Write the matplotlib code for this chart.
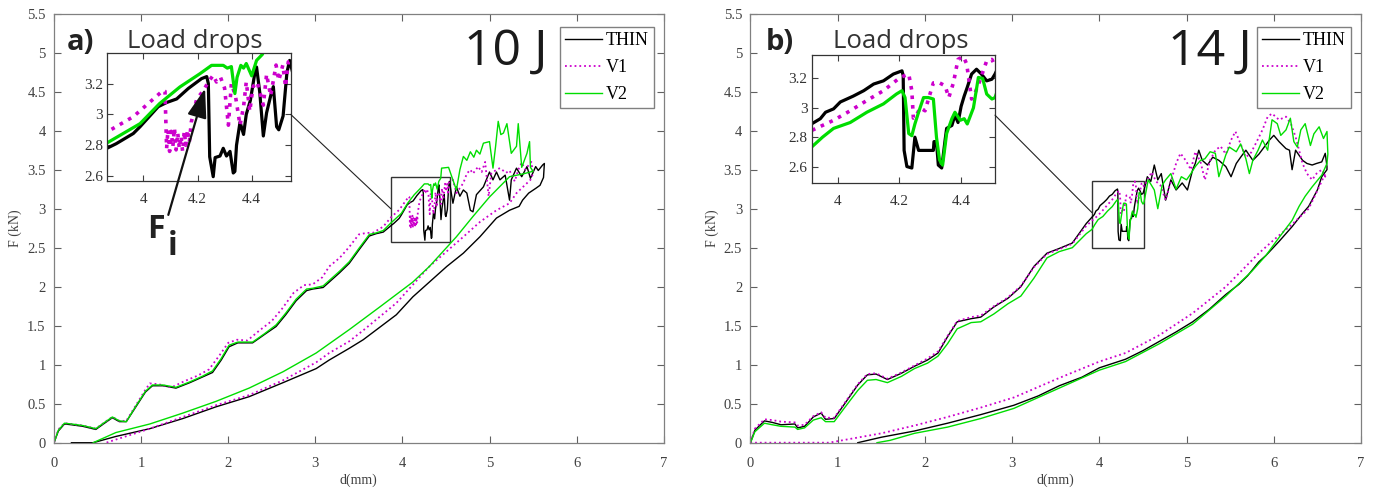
import matplotlib
matplotlib.use("Agg")
from matplotlib import pyplot as plt
from matplotlib.patches import Rectangle, ConnectionPatch
from matplotlib.ticker import FormatStrFormatter
import numpy as np

# ---- panel a) 10 J : loading + unloading path of each laminate ----
a_thin_d = [0.00, 0.05, 0.12, 0.20, 0.33, 0.48, 0.58, 0.67, 0.75, 0.83, 0.94, 1.05, 1.13, 1.25, 1.40,
            1.56, 1.70, 1.82, 1.92, 2.01, 2.11, 2.28, 2.42, 2.55, 2.66, 2.78, 2.90, 2.97, 3.09, 3.16,
            3.28, 3.39, 3.50, 3.62, 3.70, 3.78, 3.87, 3.90, 3.963, 3.988, 4.055, 4.086, 4.123, 4.166,
            4.215, 4.234, 4.240, 4.245, 4.258, 4.265, 4.283, 4.295, 4.307, 4.320, 4.332, 4.338, 4.344,
            4.357, 4.370, 4.380, 4.395, 4.410, 4.418, 4.430, 4.443, 4.455, 4.470, 4.480, 4.492, 4.500,
            4.516, 4.530, 4.540, 4.58, 4.62, 4.66, 4.70, 4.74, 4.78, 4.81, 4.85, 4.93, 5.00, 5.04, 5.08,
            5.12, 5.18, 5.23, 5.25, 5.31, 5.37, 5.43, 5.47, 5.53, 5.56, 5.61, 5.63,
            5.62, 5.58, 5.53, 5.45, 5.38, 5.34, 5.23, 5.08, 4.89, 4.70, 4.51, 4.31, 4.12, 3.93, 3.55,
            3.39, 3.16, 3.01, 2.63, 2.24, 1.86, 1.48, 1.10, 0.71, 0.45, 0.20]
a_thin_f = [0.00, 0.15, 0.24, 0.23, 0.21, 0.17, 0.25, 0.32, 0.27, 0.27, 0.46, 0.65, 0.73, 0.73, 0.70,
            0.77, 0.84, 0.90, 1.06, 1.23, 1.28, 1.28, 1.39, 1.49, 1.64, 1.82, 1.95, 1.97, 1.99, 2.06,
            2.18, 2.30, 2.47, 2.65, 2.68, 2.70, 2.784, 2.81, 2.876, 2.92, 3.05, 3.077, 3.10, 3.168,
            3.232, 3.245, 3.20, 2.725, 2.596, 2.72, 2.73, 2.78, 2.73, 2.76, 2.62, 2.63, 2.80,
            2.95, 2.87, 3.00, 3.09, 3.25, 3.307, 3.14, 2.86, 3.01, 3.12, 3.18, 2.92, 2.90,
            2.99, 3.27, 3.35, 3.07, 3.28, 3.16, 3.24, 3.20, 2.98, 2.96, 3.18, 3.28, 3.47, 3.37, 3.47,
            3.37, 3.43, 3.11, 3.37, 3.52, 3.41, 3.54, 3.39, 3.54, 3.49, 3.56, 3.58,
            3.40, 3.30, 3.26, 3.20, 3.11, 3.03, 2.98, 2.88, 2.64, 2.43, 2.26, 2.06, 1.87, 1.64, 1.32,
            1.21, 1.06, 0.95, 0.77, 0.59, 0.46, 0.31, 0.18, 0.08, 0.00, 0.00]

a_v1_d = [0.00, 0.05, 0.12, 0.20, 0.33, 0.48, 0.58, 0.67, 0.75, 0.83, 0.94, 1.05, 1.10, 1.20, 1.35,
          1.50, 1.65, 1.78, 1.90, 2.00, 2.10, 2.22, 2.36, 2.50, 2.62, 2.75, 2.87, 2.97, 3.08, 3.16,
          3.28, 3.39, 3.50, 3.59, 3.66, 3.78, 3.867, 3.963, 4.074, 4.080, 4.086, 4.091, 4.097, 4.103,
          4.109, 4.115, 4.121, 4.127, 4.133, 4.139, 4.145, 4.151, 4.157, 4.163, 4.170, 4.177,
          4.184, 4.197, 4.220, 4.240, 4.258, 4.270, 4.285, 4.300, 4.314,
          4.325, 4.340, 4.357, 4.370, 4.380, 4.393, 4.405, 4.420, 4.443, 4.455, 4.470, 4.490, 4.500,
          4.515, 4.525, 4.535, 4.58, 4.62, 4.70, 4.74, 4.78, 4.81, 4.87, 4.91, 4.95, 4.99, 5.02,
          5.08, 5.12, 5.19, 5.23, 5.29, 5.33, 5.37, 5.41, 5.45, 5.48,
          5.50, 5.47, 5.31, 5.23, 5.08, 4.89, 4.70, 4.31, 3.93, 3.55, 3.39, 3.16, 3.01, 2.63, 2.24,
          1.86, 1.48, 1.10, 0.71, 0.60]
a_v1_f = [0.00, 0.17, 0.25, 0.24, 0.22, 0.18, 0.26, 0.33, 0.28, 0.28, 0.48, 0.68, 0.76, 0.75, 0.71,
          0.79, 0.86, 0.94, 1.12, 1.28, 1.32, 1.31, 1.44, 1.56, 1.72, 1.92, 2.02, 2.03, 2.12, 2.26,
          2.37, 2.51, 2.67, 2.69, 2.69, 2.77, 2.887, 2.985, 3.157, 3.15, 2.78, 2.90, 2.76, 2.89,
          2.79, 2.91, 2.77, 2.88, 2.78, 2.86, 2.76, 2.89, 2.80, 2.90, 2.82, 2.95,
          3.00, 3.10, 3.15, 3.21, 3.254, 3.21, 3.24, 3.17, 2.93,
          3.20, 3.12, 2.93, 3.05, 3.21, 3.02, 3.18, 3.21, 3.06, 3.26, 3.12, 3.32, 3.22,
          3.32, 3.18, 3.34, 3.37, 3.20, 3.33, 3.45, 3.50, 3.45, 3.54, 3.47, 3.60, 3.16, 3.45,
          3.50, 3.52, 3.46, 3.49, 3.35, 3.50, 3.59, 3.50, 3.56, 3.60,
          3.45, 3.37, 3.20, 3.07, 2.98, 2.83, 2.64, 2.26, 1.79, 1.44, 1.30, 1.15, 1.03, 0.80, 0.61,
          0.48, 0.33, 0.18, 0.04, 0.00]

a_v2_d = [0.00, 0.05, 0.12, 0.20, 0.33, 0.48, 0.58, 0.67, 0.75, 0.83, 0.94, 1.05, 1.13, 1.25, 1.40,
          1.56, 1.70, 1.82, 1.92, 2.01, 2.11, 2.28, 2.42, 2.55, 2.66, 2.78, 2.90, 2.97, 3.09, 3.16,
          3.28, 3.39, 3.50, 3.62, 3.70, 3.78, 3.867, 3.988, 4.06, 4.135, 4.21, 4.252, 4.295, 4.310,
          4.325, 4.338, 4.346, 4.360, 4.370, 4.380, 4.400, 4.418, 4.44, 4.45, 4.53, 4.57, 4.62, 4.66,
          4.70, 4.74, 4.78, 4.82, 4.85, 4.89, 4.93, 5.00, 5.04, 5.07, 5.10, 5.13, 5.16, 5.20, 5.25,
          5.31, 5.33, 5.37, 5.43, 5.46, 5.47,
          5.50, 5.40, 5.23, 5.00, 4.81, 4.62, 4.31, 4.12, 3.74, 3.39, 3.01, 2.63, 2.24, 1.86, 1.48,
          1.10, 0.71, 0.45]
a_v2_f = [0.00, 0.16, 0.25, 0.24, 0.22, 0.18, 0.26, 0.33, 0.28, 0.27, 0.47, 0.66, 0.74, 0.74, 0.71,
          0.78, 0.85, 0.92, 1.08, 1.25, 1.29, 1.29, 1.40, 1.51, 1.66, 1.84, 1.97, 1.98, 2.01, 2.08,
          2.20, 2.32, 2.49, 2.67, 2.69, 2.72, 2.816, 2.94, 3.07, 3.178, 3.265, 3.318, 3.318, 3.30,
          3.31, 3.135, 3.24, 3.318, 3.30, 3.33, 3.25, 3.35, 3.39, 3.52, 3.53, 3.40, 3.24, 3.50,
          3.67, 3.62, 3.73, 3.66, 3.75, 3.70, 3.84, 3.86, 3.52, 3.80, 4.12, 3.95, 3.97, 4.09, 3.71,
          3.80, 4.09, 3.53, 3.71, 3.86, 3.53,
          3.48, 3.45, 3.41, 3.15, 2.90, 2.64, 2.26, 2.06, 1.74, 1.45, 1.15, 0.91, 0.70, 0.53, 0.38,
          0.24, 0.13, 0.00]

# ---- panel b) 14 J ----
b_thin_d = [0.00, 0.05, 0.16, 0.25, 0.35, 0.51, 0.54, 0.62, 0.72, 0.81, 0.86, 0.96, 1.08, 1.23, 1.34,
            1.44, 1.57, 1.73, 1.88, 2.03, 2.15, 2.26, 2.37, 2.53, 2.64, 2.79, 2.95, 3.10, 3.25, 3.40,
            3.54, 3.69, 3.85, 3.916, 3.943, 3.960, 3.986, 4.008, 4.050, 4.084, 4.116, 4.148, 4.180,
            4.208, 4.212, 4.215, 4.224, 4.240, 4.250, 4.262, 4.290, 4.310, 4.312, 4.320, 4.326, 4.337,
            4.348, 4.353, 4.370, 4.380, 4.390, 4.400, 4.410, 4.420, 4.434, 4.450, 4.466, 4.483, 4.500,
            4.510, 4.55, 4.59, 4.63, 4.67, 4.71, 4.76, 4.82, 4.88, 4.95, 5.01, 5.07, 5.10, 5.14, 5.18,
            5.24, 5.30, 5.37, 5.45, 5.51, 5.57, 5.62, 5.68, 5.76, 5.83, 5.89, 5.95, 6.00, 6.06, 6.14,
            6.18, 6.21, 6.25, 6.33, 6.38, 6.44, 6.49, 6.55, 6.59, 6.61,
            6.61, 6.55, 6.50, 6.40, 6.33, 6.21, 6.06, 5.91, 5.83, 5.70, 5.60, 5.45, 5.26, 5.07, 4.88,
            4.69, 4.50, 4.30, 4.00, 3.80, 3.54, 3.30, 3.02, 2.64, 2.26, 1.88, 1.50, 1.23]
b_thin_f = [0.00, 0.16, 0.28, 0.26, 0.23, 0.24, 0.19, 0.21, 0.33, 0.38, 0.30, 0.31, 0.50, 0.74, 0.87,
            0.88, 0.81, 0.89, 0.98, 1.06, 1.15, 1.36, 1.55, 1.59, 1.61, 1.74, 1.85, 2.00, 2.26, 2.43,
            2.49, 2.56, 2.81, 2.892, 2.926, 2.97, 2.993, 3.04, 3.08, 3.117, 3.162, 3.184, 3.23,
            3.252, 3.22, 2.71, 2.60, 2.59, 2.80, 2.71, 2.71, 2.71, 2.77, 2.77, 2.61, 2.59,
            2.78, 2.86, 2.88, 2.95, 2.90, 3.01, 3.08, 3.14, 3.23, 3.263, 3.23, 3.184, 3.195,
            3.23, 3.41, 3.35, 3.56, 3.37, 3.45, 3.11, 3.37, 3.24, 3.33, 3.24, 3.50, 3.58, 3.75, 3.62,
            3.56, 3.66, 3.62, 3.54, 3.41, 3.58, 3.66, 3.75, 3.62, 3.70, 3.79, 3.88, 3.94, 3.86, 3.77,
            3.75, 3.50, 3.75, 3.62, 3.58, 3.56, 3.58, 3.60, 3.71, 3.54,
            3.50, 3.41, 3.24, 3.03, 2.94, 2.77, 2.58, 2.40, 2.32, 2.14, 2.03, 1.90, 1.71, 1.55, 1.42,
            1.30, 1.18, 1.07, 0.96, 0.84, 0.73, 0.60, 0.48, 0.36, 0.25, 0.15, 0.07, 0.00]

b_v1_d = [0.00, 0.05, 0.16, 0.25, 0.35, 0.51, 0.54, 0.62, 0.72, 0.81, 0.86, 0.96, 1.08, 1.23, 1.34,
          1.44, 1.57, 1.73, 1.88, 2.03, 2.15, 2.26, 2.37, 2.53, 2.64, 2.79, 2.95, 3.10, 3.25, 3.40,
          3.54, 3.69, 3.85, 3.916, 3.986, 4.040, 4.094, 4.148, 4.202, 4.230, 4.240, 4.245, 4.255,
          4.267, 4.283, 4.294, 4.310, 4.330, 4.348, 4.360, 4.375, 4.390, 4.407, 4.418, 4.434, 4.445,
          4.460, 4.483, 4.500, 4.510, 4.53, 4.60, 4.65, 4.70, 4.76, 4.82, 4.88, 4.93, 4.99, 5.05,
          5.10, 5.16, 5.21, 5.27, 5.33, 5.39, 5.45, 5.51, 5.56, 5.62, 5.68, 5.74, 5.80, 5.87, 5.93,
          5.98, 6.06, 6.14, 6.20, 6.25, 6.33, 6.38, 6.44, 6.49, 6.55, 6.59,
          6.59, 6.52, 6.40, 6.21, 6.00, 5.83, 5.60, 5.45, 5.07, 4.69, 4.30, 4.00, 3.54, 3.02, 2.64,
          2.26, 1.88, 1.50, 1.00, 0.90, 0.00]
b_v1_f = [0.00, 0.18, 0.30, 0.29, 0.27, 0.26, 0.22, 0.23, 0.34, 0.39, 0.32, 0.32, 0.51, 0.75, 0.88,
          0.89, 0.82, 0.90, 0.99, 1.08, 1.17, 1.37, 1.56, 1.61, 1.63, 1.75, 1.86, 2.01, 2.25, 2.42,
          2.48, 2.55, 2.78, 2.847, 2.915, 2.98, 3.05, 3.117, 3.207, 3.23, 3.117, 2.93, 2.95,
          3.00, 2.98, 3.06, 3.17, 3.17, 3.15, 3.07, 3.17, 3.33, 3.35, 3.30, 3.06, 3.10,
          3.18, 3.32, 3.33, 3.285, 3.32, 3.47, 3.35, 3.30, 3.11, 3.35, 3.58, 3.71, 3.62, 3.50,
          3.73, 3.60, 3.37, 3.62, 3.75, 3.80, 3.70, 3.88, 3.99, 3.83, 3.66, 3.72, 3.85, 4.01, 4.18,
          4.22, 4.14, 4.18, 4.08, 3.92, 3.58, 3.45, 3.37, 3.45, 3.50, 3.41,
          3.45, 3.28, 3.00, 2.80, 2.60, 2.43, 2.17, 2.00, 1.66, 1.38, 1.15, 1.04, 0.83, 0.58, 0.45,
          0.33, 0.22, 0.12, 0.02, 0.00, 0.00]

b_v2_d = [0.00, 0.05, 0.16, 0.25, 0.35, 0.51, 0.54, 0.62, 0.72, 0.81, 0.86, 0.96, 1.08, 1.23, 1.34,
          1.44, 1.57, 1.73, 1.88, 2.03, 2.15, 2.26, 2.37, 2.53, 2.64, 2.79, 2.95, 3.10, 3.25, 3.40,
          3.54, 3.69, 3.85, 3.916, 3.950, 3.986, 4.040, 4.094, 4.148, 4.190, 4.208, 4.218, 4.230,
          4.240, 4.250, 4.262, 4.278, 4.294, 4.310, 4.320, 4.330, 4.340, 4.353, 4.370, 4.380, 4.397,
          4.410, 4.420, 4.440, 4.456, 4.470, 4.483, 4.500, 4.510, 4.56, 4.63, 4.67, 4.72, 4.76, 4.82,
          4.88, 4.94, 5.00, 5.05, 5.10, 5.16, 5.21, 5.27, 5.33, 5.37, 5.45, 5.49, 5.57, 5.62, 5.68,
          5.72, 5.76, 5.82, 5.87, 5.93, 5.98, 6.04, 6.08, 6.14, 6.19, 6.23, 6.27, 6.31, 6.36, 6.42,
          6.46, 6.52, 6.57, 6.61, 6.62,
          6.61, 6.55, 6.44, 6.36, 6.29, 6.21, 6.06, 5.91, 5.75, 5.60, 5.45, 5.07, 4.69, 4.30, 4.00,
          3.54, 3.02, 2.64, 2.26, 1.88, 1.60, 1.45]
b_v2_f = [0.00, 0.14, 0.25, 0.23, 0.21, 0.20, 0.17, 0.19, 0.29, 0.32, 0.27, 0.27, 0.45, 0.67, 0.80,
          0.81, 0.77, 0.85, 0.95, 1.02, 1.11, 1.27, 1.46, 1.54, 1.55, 1.65, 1.78, 1.88, 2.11, 2.37,
          2.45, 2.50, 2.68, 2.735, 2.80, 2.86, 2.90, 2.97, 3.027, 3.094, 3.117, 3.07, 2.825,
          2.81, 2.89, 2.97, 3.07, 3.07, 3.06, 2.80, 2.645, 2.61, 2.825, 2.926, 2.97, 2.915,
          2.926, 2.89, 3.00, 3.207, 3.20, 3.094, 3.06, 3.07, 3.37, 3.24, 3.00, 3.30, 3.37, 3.45,
          3.25, 3.41, 3.37, 3.45, 3.54, 3.62, 3.64, 3.73, 3.71, 3.41, 3.69, 3.79, 3.73, 3.83, 3.64,
          3.45, 3.62, 3.75, 3.88, 3.75, 4.14, 4.09, 3.94, 4.01, 4.16, 3.86, 3.79, 4.01, 4.09, 3.81,
          3.96, 4.05, 3.90, 3.99, 3.70,
          3.58, 3.43, 3.28, 3.16, 3.03, 2.85, 2.63, 2.40, 2.20, 2.04, 1.88, 1.52, 1.27, 1.04, 0.93,
          0.70, 0.44, 0.31, 0.20, 0.12, 0.03, 0.00]

labels = ["THIN", "V1", "V2"]
colors = ["#000000", "#cc00cc", "#00dd00"]
styles = ["-", ":", "-"]

panels = [
    dict(tag="a)", energy="10 J",
         curves=[(a_thin_d, a_thin_f), (a_v1_d, a_v1_f), (a_v2_d, a_v2_f)],
         zx=(3.867, 4.544), zy=(2.57, 3.40), link_f=3.0,
         pos=[0.03905, 0.10566, 0.44085, 0.86667], inpos=[0.07758, 0.63495, 0.13261, 0.25859],
         tagx=0.021, loadx=0.119, ex=0.672),
    dict(tag="b)", energy="14 J",
         curves=[(b_thin_d, b_thin_f), (b_v1_d, b_v1_f), (b_v2_d, b_v2_f)],
         zx=(3.915, 4.51), zy=(2.49, 3.36), link_f=2.95,
         pos=[0.54266, 0.10566, 0.44143, 0.86667], inpos=[0.58691, 0.63091, 0.13254, 0.25798],
         tagx=0.025, loadx=0.135, ex=0.684),
]

serif = "Liberation Serif"
sans = "Open Sans"

fig = plt.figure(figsize=(13.83, 4.95), dpi=100)

for p in panels:
    ax = fig.add_axes(p["pos"])
    for (d, f), lab, c, ls in zip(p["curves"], labels, colors, styles):
        ax.plot(d, f, ls, color=c, lw=1.0 if ls == "-" else 1.3, label=lab)
    ax.set_xlim(0, 7)
    ax.set_ylim(0, 5.5)
    ax.set_xticks(np.arange(0, 8, 1))
    ax.set_yticks(np.arange(0, 5.51, 0.5))
    ax.yaxis.set_major_formatter(FormatStrFormatter("%g"))
    ax.tick_params(direction="in", length=5, top=True, right=True, color="#606060",
                   labelcolor="#404040", labelsize=10.5, width=0.8)
    ax.tick_params(axis="x", pad=10)
    ax.tick_params(axis="y", pad=6)
    for lab in ax.get_xticklabels() + ax.get_yticklabels():
        lab.set_family(serif)
    for s in ax.spines.values():
        s.set_color("#808080")
        s.set_linewidth(0.9)
    ax.set_xlabel("d(mm)", family=serif, fontsize=10, color="#404040")
    ax.set_ylabel("F (kN)", family=serif, fontsize=10, color="#404040")
    ax.xaxis.set_label_coords(0.5, -0.072)
    ax.yaxis.set_label_coords(-0.052, 0.5)

    leg = ax.legend(loc="upper right", bbox_to_anchor=(0.984, 0.970), borderaxespad=0,
                    fancybox=False, framealpha=1, edgecolor="#808080", handlelength=2.05,
                    handletextpad=0.2, labelspacing=0.55, borderpad=0.3,
                    prop={"family": serif, "size": 13})
    leg.get_frame().set_linewidth(1.0)

    ax.text(p["tagx"], 0.915, p["tag"], transform=ax.transAxes, family=sans, fontweight="bold",
            fontsize=21, color="#222222", va="baseline")
    ax.text(p["loadx"], 0.919, "Load drops", transform=ax.transAxes, family=sans,
            fontsize=18.5, color="#333333", va="baseline")
    ax.text(p["ex"], 0.882, p["energy"], transform=ax.transAxes, family=sans,
            fontsize=36, fontweight="medium", color="#1a1a1a", va="baseline")

    zx, zy = p["zx"], p["zy"]
    ax.add_patch(Rectangle((zx[0], zy[0]), zx[1] - zx[0], zy[1] - zy[0], fill=False,
                           ec="#333333", lw=1.0))

    ax_in = fig.add_axes(p["inpos"])
    for (d, f), c, ls in zip(p["curves"], colors, styles):
        ax_in.plot(d, f, ls, color=c, lw=2.3 if ls == "-" else 2.6)
    ax_in.set_xlim(*zx)
    ax_in.set_ylim(*zy)
    ax_in.set_xticks([4.0, 4.2, 4.4])
    ax_in.set_yticks([2.6, 2.8, 3.0, 3.2])
    ax_in.xaxis.set_major_formatter(FormatStrFormatter("%g"))
    ax_in.yaxis.set_major_formatter(FormatStrFormatter("%g"))
    ax_in.tick_params(direction="in", length=4, top=True, right=True, color="#404040",
                      labelcolor="#333333", labelsize=11, width=0.8)
    ax_in.tick_params(axis="x", pad=9)
    ax_in.tick_params(axis="y", pad=3)
    for lab in ax_in.get_xticklabels() + ax_in.get_yticklabels():
        lab.set_family(serif)
    for s in ax_in.spines.values():
        s.set_color("#333333")
        s.set_linewidth(0.9)

    con = ConnectionPatch(xyA=(zx[1], p["link_f"]), coordsA=ax_in.transData,
                          xyB=(zx[0], p["link_f"]), coordsB=ax.transData,
                          color="#222222", lw=0.8)
    fig.add_artist(con)

    if p["tag"] == "a)":
        ax_in.annotate("", xy=(4.228, 3.168), xycoords="data",
                       xytext=(0.1875, 0.531), textcoords=ax.transAxes,
                       arrowprops=dict(arrowstyle="-|>,head_length=1.2,head_width=0.4",
                                       mutation_scale=15, color="#111111", lw=1.6,
                                       shrinkA=0, shrinkB=0))
        ax.text(0.152, 0.477, "F", transform=ax.transAxes, family=sans, fontweight="bold",
                fontsize=23, color="#222222", va="baseline")
        ax.text(0.186, 0.4375, "i", transform=ax.transAxes, family=sans, fontweight="bold",
                fontsize=23, color="#222222", va="baseline")

fig.savefig("out.png", dpi=100)
